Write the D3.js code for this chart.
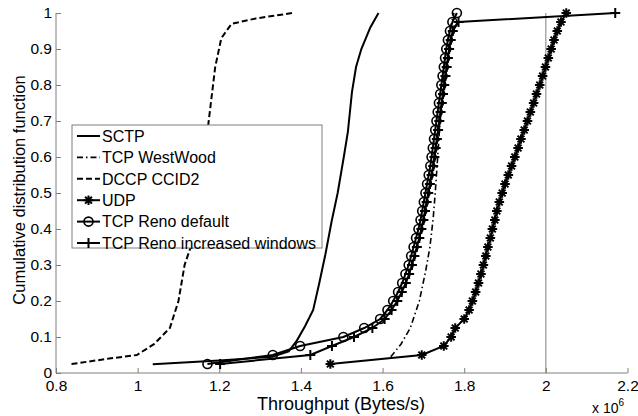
<!DOCTYPE html>
<html>
<head>
<meta charset="utf-8">
<script src="https://cdn.jsdelivr.net/npm/d3@7"></script>
<style>
  body { margin: 0; background: #fff; }
  text { font-family: Arial, "Liberation Sans", sans-serif; fill: #000; }
</style>
</head>
<body>
<div id="chart"></div>
<script>
(() => {
"use strict";

const WIDTH = 638, HEIGHT = 416;

// ---- data (throughput in 1e6 Bytes/s, cdf) ----
const xTicks = [0.8, 1, 1.2, 1.4, 1.6, 1.8, 2, 2.2];
const yTicks = [0, 0.1, 0.2, 0.3, 0.4, 0.5, 0.6, 0.7, 0.8, 0.9, 1];

const sctp = [[1.037,0.024],[1.2,0.035],[1.33,0.045],[1.37,0.06],[1.39,0.09],[1.41,0.13],
  [1.43,0.175],[1.445,0.25],[1.46,0.33],[1.475,0.42],[1.49,0.5],[1.505,0.6],[1.515,0.67],
  [1.525,0.78],[1.535,0.85],[1.548,0.9],[1.57,0.96],[1.59,1.0]];

const westwood = [[1.62,0.045],[1.645,0.08],[1.668,0.125],[1.69,0.2],[1.705,0.28],[1.716,0.35],
  [1.724,0.43],[1.729,0.5],[1.735,0.6],[1.741,0.7],[1.748,0.8],[1.756,0.9],[1.764,0.95],[1.775,1.0]];

const dccp = [[0.838,0.025],[0.93,0.04],[0.998,0.05],[1.04,0.08],[1.079,0.125],[1.1,0.2],
  [1.115,0.3],[1.13,0.35],[1.15,0.5],[1.165,0.62],[1.173,0.69],[1.19,0.85],[1.205,0.93],
  [1.23,0.97],[1.29,0.985],[1.38,1.0]];

const cdfLevels = [0.025,0.05,0.075,0.1,0.125,0.15,0.175,0.2,0.225,0.25,0.275,0.3,0.325,0.35,
  0.375,0.4,0.425,0.45,0.475,0.5,0.525,0.55,0.575,0.6,0.625,0.65,0.675,0.7,0.725,0.75,
  0.775,0.8,0.825,0.85,0.875,0.9,0.925,0.95,0.975,1.0];

const udpX = [1.472,1.696,1.750,1.768,1.778,1.800,1.812,1.820,1.828,1.835,1.841,1.847,1.853,
  1.858,1.864,1.869,1.875,1.880,1.886,1.893,1.900,1.908,1.916,1.924,1.932,1.939,1.947,1.955,
  1.962,1.970,1.977,1.985,1.992,1.999,2.006,2.013,2.020,2.028,2.037,2.050];

const renoDefaultX = [1.171,1.331,1.398,1.504,1.555,1.594,1.612,1.626,1.638,1.648,1.656,1.664,
  1.670,1.676,1.682,1.688,1.693,1.697,1.701,1.705,1.709,1.713,1.717,1.720,1.723,1.726,1.729,
  1.732,1.735,1.738,1.741,1.744,1.747,1.750,1.753,1.756,1.760,1.765,1.771,1.782];

const renoWindowsX = [1.202,1.423,1.476,1.530,1.575,1.605,1.622,1.636,1.647,1.657,1.665,1.672,
  1.678,1.684,1.690,1.695,1.700,1.704,1.708,1.712,1.716,1.720,1.724,1.727,1.730,1.733,1.736,
  1.739,1.742,1.745,1.748,1.751,1.754,1.757,1.760,1.763,1.767,1.772,1.786,2.170];

const legendNames = ["SCTP", "TCP WestWood", "DCCP CCID2", "UDP", "TCP Reno default",
  "TCP Reno increased windows"];

const zip = (xs) => xs.map((x, i) => [x, cdfLevels[i]]);

const series = [
  { name: legendNames[0], data: sctp, width: 2, dash: null, marker: null },
  { name: legendNames[1], data: westwood, width: 1.6, dash: "6,3,1.5,3", marker: null },
  { name: legendNames[2], data: dccp, width: 2, dash: "6,3", marker: null },
  { name: legendNames[3], data: zip(udpX), width: 2, dash: null, marker: "star" },
  { name: legendNames[4], data: zip(renoDefaultX), width: 2, dash: null, marker: "circle" },
  { name: legendNames[5], data: zip(renoWindowsX), width: 2, dash: null, marker: "plus" }
];

const AXIS = "#7f7f7f";

let svg = d3.select("#chart").append("svg")
  .attr("width", WIDTH)
  .attr("height", HEIGHT);

let xScale = d3.scaleLinear().domain([0.8, 2.2]).range([56, 627.5]);
let yScale = d3.scaleLinear().domain([0, 1]).range([373, 13]);

// axes (MATLAB style, ticks inside, box off)
let xAxis = svg.append("g")
  .attr("transform", `translate(0,${yScale(0)})`)
  .call(d3.axisBottom(xScale).tickValues(xTicks).tickSize(-5).tickPadding(7)
    .tickFormat(d3.format("")));
let yAxis = svg.append("g")
  .attr("transform", `translate(${xScale(0.8)},0)`)
  .call(d3.axisLeft(yScale).tickValues(yTicks).tickSize(-5).tickPadding(4)
    .tickFormat(d3.format("")));

[xAxis, yAxis].forEach(ax => {
  ax.select(".domain").attr("stroke", AXIS).attr("stroke-width", 1);
  ax.selectAll(".tick line").attr("stroke", AXIS);
  ax.selectAll(".tick text")
    .attr("fill", "#000")
    .style("font-family", "Arial, 'Liberation Sans', sans-serif")
    .style("font-size", "15.5px");
});
xAxis.select(".domain").attr("d", `M${xScale(0.8)},0H${xScale(2.2)}`);
yAxis.select(".domain").attr("d", `M0,${yScale(0)}V${yScale(1)}`);

// vertical reference line at 2e6
svg.append("line")
  .attr("x1", xScale(2)).attr("x2", xScale(2))
  .attr("y1", yScale(0)).attr("y2", yScale(1))
  .attr("stroke", AXIS).attr("stroke-width", 1);

// ---- curves ----
let line = d3.line()
  .x(d => xScale(d[0]))
  .y(d => yScale(d[1]));

const markerPath = {
  star: "M-4.8,0H4.8M0,-4.8V4.8M-3.4,-3.4L3.4,3.4M-3.4,3.4L3.4,-3.4",
  plus: "M-5,0H5M0,-5V5"
};

let drawMarker = function(g, type, x, y) {
  if (type === "circle") {
    g.append("circle").attr("cx", x).attr("cy", y).attr("r", 4.5)
      .attr("fill", "none").attr("stroke", "#000").attr("stroke-width", 1.6);
  } else if (type) {
    g.append("path").attr("transform", `translate(${x},${y})`)
      .attr("d", markerPath[type])
      .attr("fill", "none").attr("stroke", "#000").attr("stroke-width", 2);
  }
};

let plot = svg.append("g");
series.forEach(s => {
  plot.append("path")
    .datum(s.data)
    .attr("d", line)
    .attr("fill", "none")
    .attr("stroke", "#000")
    .attr("stroke-width", s.width)
    .attr("stroke-dasharray", s.dash);
  if (s.marker) {
    let mg = plot.append("g");
    s.data.forEach(d => drawMarker(mg, s.marker, xScale(d[0]), yScale(d[1])));
  }
});

// ---- legend ----
let legend = svg.append("g").attr("transform", "translate(72,125)");
legend.append("rect")
  .attr("width", 250).attr("height", 123)
  .attr("fill", "#fff").attr("stroke", AXIS).attr("stroke-width", 1);

series.forEach((s, i) => {
  let y = 11 + i * 21.4;
  legend.append("line")
    .attr("x1", 5).attr("x2", 28).attr("y1", y).attr("y2", y)
    .attr("stroke", "#000").attr("stroke-width", s.width)
    .attr("stroke-dasharray", s.dash);
  let mg = legend.append("g");
  drawMarker(mg, s.marker, 16.5, y);
  legend.append("text")
    .attr("x", 30).attr("y", y).attr("dy", "0.36em")
    .style("font-size", "16px")
    .text(s.name);
});

// ---- labels ----
svg.append("text")
  .attr("x", 341).attr("y", 410)
  .attr("text-anchor", "middle")
  .style("font-size", "18px")
  .text("Throughput (Bytes/s)");

svg.append("text")
  .attr("transform", "translate(25,190) rotate(-90)")
  .attr("text-anchor", "middle")
  .style("font-size", "16.5px")
  .text("Cumulative distribution function");

let sci = svg.append("text")
  .attr("x", 592).attr("y", 413)
  .style("font-size", "14px");
sci.append("tspan").text("x 10");
sci.append("tspan").attr("dy", -7).style("font-size", "10px").text("6");
})();
</script>
</body>
</html>
